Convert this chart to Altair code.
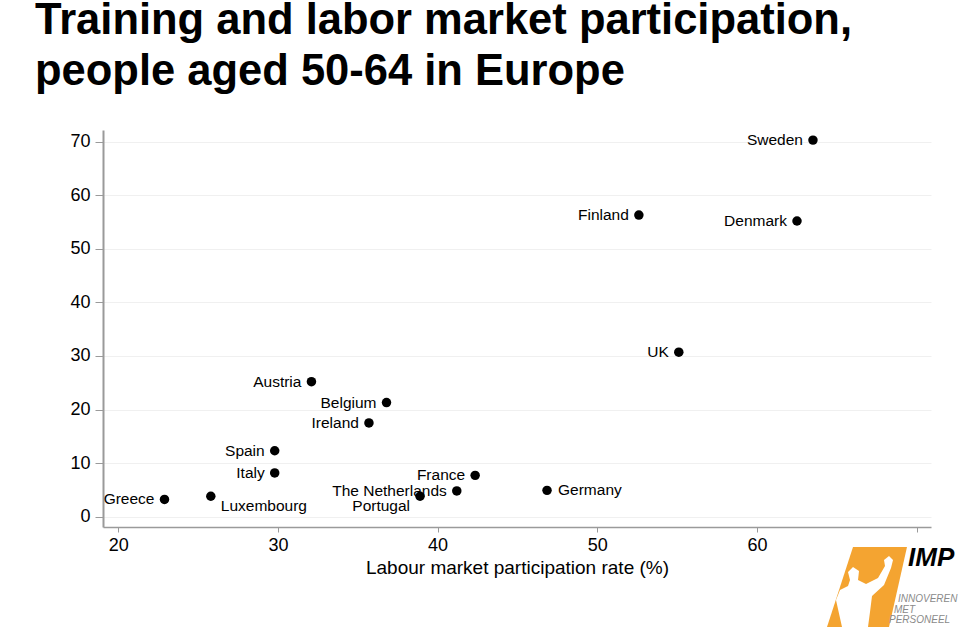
import altair as alt
import pandas as pd

# ---- data ----
countries = ["Sweden", "Finland", "Denmark", "UK", "Austria", "Belgium", "Ireland",
             "Spain", "Italy", "Greece", "Luxembourg", "Portugal", "The Netherlands",
             "France", "Germany"]
participation = [63.5, 52.6, 62.5, 55.1, 32.1, 36.8, 35.7,
                 29.8, 29.8, 22.9, 25.8, 38.9, 41.2,
                 42.35, 46.85]
training = [70.3, 56.3, 55.2, 30.7, 25.2, 21.3, 17.5,
            12.3, 8.15, 3.2, 3.8, 3.8, 4.8,
            7.7, 4.9]
x_ticks = [20, 30, 40, 50, 60, 70]
y_ticks = [0, 10, 20, 30, 40, 50, 60, 70]
title_lines = ["Training and labor market participation,", "people aged 50-64 in Europe"]
x_title = "Labour market participation rate (%)"
logo_name = ["IMP"]
logo_tagline = ["INNOVEREN", "MET", "PERSONEEL"]

df = pd.DataFrame({"country": countries, "part": participation, "train": training})

FONT = "Liberation Sans"
AXIS_GRAY = "#9a9a9a"

x_enc = alt.X("part:Q", scale=alt.Scale(domain=[19.05, 70.89], nice=False, zero=False),
              axis=alt.Axis(values=x_ticks, title=x_title, grid=False,
                            labelExpr="datum.value == 70 ? '' : datum.label",
                            labelFontSize=18, labelFont=FONT, labelColor="#000",
                            titleFontSize=19, titleFont=FONT, titleFontWeight="normal",
                            titleColor="#000", titlePadding=4,
                            domainColor=AXIS_GRAY, domainWidth=1.5,
                            tickColor=AXIS_GRAY, tickSize=5, labelPadding=4))
y_enc = alt.Y("train:Q", scale=alt.Scale(domain=[-1.94, 72.19], nice=False, zero=False),
              axis=alt.Axis(values=y_ticks, title=None, grid=True, gridColor="#f0f0f0",
                            labelFontSize=18, labelFont=FONT, labelColor="#000",
                            domainColor=AXIS_GRAY, domainWidth=2,
                            tickColor=AXIS_GRAY, tickSize=8, labelPadding=5))

base = alt.Chart(df)

points = base.mark_point(filled=True, shape="circle", size=90, color="#000",
                         opacity=1).encode(x=x_enc, y=y_enc)

def labels(names, align, dx, dy):
    return base.transform_filter(
        alt.FieldOneOfPredicate(field="country", oneOf=names)
    ).mark_text(align=align, baseline="middle", dx=dx, dy=dy, font=FONT,
                fontSize=15.5, color="#000").encode(x="part:Q", y="train:Q", text="country:N")

left_names = [c for c in countries if c not in ("Germany", "Luxembourg", "Portugal")]
lab_left = labels(left_names, "right", -10, 0)
lab_right = labels(["Germany"], "left", 11, 0)
lab_lux = labels(["Luxembourg"], "left", 10, 10)
lab_por = labels(["Portugal"], "right", -10, 10)

# ---- simplified IMP logo (decoration) ----
logo_df = pd.DataFrame({"t": logo_name})
logo_shape = alt.Chart(logo_df).mark_point(
    shape="M-0.35,-1 L1,-1 L0.55,1 L-1,1 Z",
    filled=True, color="#f4a431", opacity=1, size=6400
).encode(x=alt.value(764), y=alt.value(457))
figure_path = ("M-0.575,0.9 L-0.725,0.225 L-0.625,-0.025 L-0.425,-0.125 L-0.375,-0.275 "
               "L-0.425,-0.475 L-0.3,-0.6 L-0.15,-0.5 L-0.175,-0.275 L0.025,-0.175 "
               "L0.325,-0.325 L0.5,-0.625 L0.475,-0.775 L0.6,-0.875 L0.7,-0.775 "
               "L0.65,-0.575 L0.475,-0.15 L0.175,0.125 L0.125,0.525 L0.075,0.9 Z")
logo_figure = alt.Chart(logo_df).mark_point(
    shape=figure_path, filled=True, color="#ffffff", opacity=1, size=6400
).encode(x=alt.value(762), y=alt.value(461))
logo_imp = alt.Chart(logo_df).mark_text(
    align="left", baseline="alphabetic", font=FONT, fontSize=26,
    fontWeight="bold", fontStyle="italic", color="#000"
).encode(x=alt.value(805), y=alt.value(436), text="t:N")
tag_df = pd.DataFrame({"t": logo_tagline})
tag_layers = []
for txt, px, py in zip(logo_tagline, [795, 791, 786], [471.7, 482.7, 493]):
    tag_layers.append(
        alt.Chart(tag_df).transform_filter(alt.datum.t == txt).mark_text(
            align="left", baseline="alphabetic", font=FONT, fontSize=10,
            fontStyle="italic", color="#8a8a8a"
        ).encode(x=alt.value(px), y=alt.value(py), text="t:N")
    )

chart = alt.layer(points, lab_left, lab_right, lab_lux, lab_por,
                  logo_shape, logo_figure, logo_imp, *tag_layers).properties(
    width=828, height=397,
    autosize=alt.AutoSizeParams(type="none"),
    padding={"left": 103, "top": 130, "right": 29, "bottom": 104},
    title=alt.TitleParams(text=title_lines, anchor="start", frame="group", dx=-68,
                          offset=36, fontSize=43.5, fontWeight="bold", font=FONT,
                          color="#000", lineHeight=51),
    background="white",
).configure_view(stroke=None)

chart.save("out.html", embed_options={"renderer": "svg", "actions": False})
